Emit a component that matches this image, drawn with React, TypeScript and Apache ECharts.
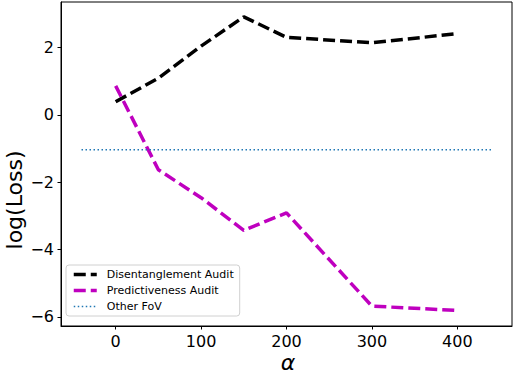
import React, { useEffect, useRef } from "react";
import * as echarts from "echarts";

const alphas = [0, 50, 100, 150, 200, 300, 400];
const disentanglement = [0.39, 1.09, 2.04, 2.91, 2.3, 2.14, 2.41];
const predictiveness = [0.86, -1.63, -2.46, -3.43, -2.91, -5.68, -5.81];
const otherFovX = [-40, 440];
const otherFovY = [-1.04, -1.04];
const xTicks = [0, 100, 200, 300, 400];
const yTicks = [-6, -4, -2, 0, 2];

const FONT = "DejaVu Sans";

export default function App() {
  const ref = useRef<HTMLDivElement>(null);
  useEffect(() => {
    if (!ref.current) return;
    const chart = echarts.init(ref.current, undefined, { renderer: "svg" });
    chart.setOption({
      animation: false,
      backgroundColor: "#fff",
      grid: {
        left: 61,
        right: 2,
        top: 2,
        bottom: 48,
        show: true,
        borderColor: "#000",
        borderWidth: 1,
        backgroundColor: "transparent",
      },
      xAxis: {
        type: "value",
        min: -64,
        max: 464,
        splitLine: { show: false },
        axisLine: { onZero: false, lineStyle: { color: "#000", width: 1 } },
        axisTick: {
          show: true,
          customValues: xTicks,
          length: 3.5,
          lineStyle: { color: "#000", width: 1 },
        },
        axisLabel: {
          customValues: xTicks,
          color: "#000",
          fontFamily: FONT,
          fontSize: 16,
          margin: 7,
        },
      },
      yAxis: {
        type: "value",
        min: -6.27,
        max: 3.35,
        splitLine: { show: false },
        axisLine: { show: true, onZero: false, lineStyle: { color: "#000", width: 1 } },
        axisTick: {
          show: true,
          customValues: yTicks,
          length: 3.5,
          lineStyle: { color: "#000", width: 1 },
        },
        axisLabel: {
          customValues: yTicks,
          color: "#000",
          fontFamily: FONT,
          fontSize: 16,
          margin: 7,
          formatter: (v: number) => (v < 0 ? "\u2212" + Math.abs(v) : String(v)),
        },
      },
      legend: {
        show: true,
        orient: "vertical",
        left: 66,
        top: 265,
        padding: [4, 6, 4, 6],
        itemGap: 5,
        itemWidth: 23,
        itemHeight: 11,
        borderColor: "#d0d0d0",
        borderWidth: 1,
        borderRadius: 3,
        backgroundColor: "rgba(255,255,255,0.8)",
        itemStyle: { opacity: 0 },
        textStyle: {
          fontFamily: FONT,
          fontSize: 11,
          color: "#000",
          padding: [0, 0, 0, 5],
        },
        data: [
          { name: "Disentanglement Audit", lineStyle: { width: 3.5, type: [12, 5] } },
          { name: "Predictiveness Audit", lineStyle: { width: 3.5, type: [12, 5] } },
          { name: "Other FoV", lineStyle: { width: 1.5, type: [1.5, 2.5] } },
        ],
      },
      graphic: [
        {
          type: "text",
          x: 14,
          y: 200,
          rotation: Math.PI / 2,
          style: {
            text: "log(Loss)",
            fontFamily: FONT,
            fontSize: 22,
            fill: "#000",
            align: "center",
            verticalAlign: "middle",
          },
        },
        {
          type: "text",
          x: 288,
          y: 362,
          style: {
            text: "α",
            fontFamily: FONT,
            fontStyle: "italic",
            fontSize: 22,
            fill: "#000",
            align: "center",
            verticalAlign: "middle",
          },
        },
      ],
      series: [
        {
          name: "Disentanglement Audit",
          type: "line",
          data: alphas.map((a, i) => [a, disentanglement[i]]),
          symbol: "none",
          color: "#000",
          lineStyle: { color: "#000", width: 3.5, type: [12, 5] },
        },
        {
          name: "Predictiveness Audit",
          type: "line",
          data: alphas.map((a, i) => [a, predictiveness[i]]),
          symbol: "none",
          color: "#bf00bf",
          lineStyle: { color: "#bf00bf", width: 3.5, type: [12, 5] },
        },
        {
          name: "Other FoV",
          type: "line",
          data: otherFovX.map((a, i) => [a, otherFovY[i]]),
          symbol: "none",
          color: "#1f77b4",
          lineStyle: { color: "#1f77b4", width: 1.5, type: [1.5, 2.5] },
        },
      ],
    });
    return () => chart.dispose();
  }, []);
  return <div ref={ref} style={{ width: 514, height: 374, position: "absolute", left: 0, top: 0 }} />;
}
